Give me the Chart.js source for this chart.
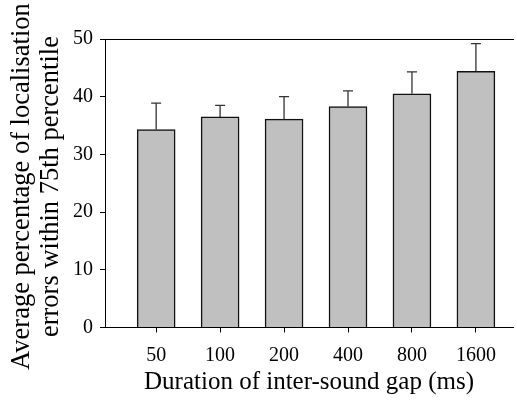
<!DOCTYPE html>
<html>
<head>
<meta charset="utf-8">
<script src="https://cdn.jsdelivr.net/npm/chart.js@4/dist/chart.umd.min.js"></script>
<style>
  body { margin: 0; background: #fff; }
  #wrap { width: 517px; height: 405px; }
</style>
</head>
<body>
<div id="wrap"><canvas id="myChart" width="517" height="405"></canvas></div>
<script>
'use strict';

var gaps = ["50", "100", "200", "400", "800", "1600"];
var means = [34.3, 36.5, 36.1, 38.3, 40.5, 44.4];
var errors = [4.6, 2.0, 3.9, 2.7, 3.8, 4.8];
var yTicks = [0, 10, 20, 30, 40, 50];

var serif = "'Liberation Serif', 'Times New Roman', serif";

// one-sided error bars, drawn from the bar top upward
var errorBars = {
  id: 'errorBars',
  afterDatasetsDraw: function(chart) {
    var ctx = chart.ctx;
    var meta = chart.getDatasetMeta(0);
    var y = chart.scales.y;
    ctx.save();
    ctx.strokeStyle = '#333';
    ctx.lineWidth = 1.3;
    meta.data.forEach(function(bar, i) {
      var top = y.getPixelForValue(means[i]);
      var end = y.getPixelForValue(means[i] + errors[i]);
      ctx.beginPath();
      ctx.moveTo(bar.x, top);
      ctx.lineTo(bar.x, end);
      ctx.moveTo(bar.x - 5, end);
      ctx.lineTo(bar.x + 5, end);
      ctx.stroke();
    });
    ctx.restore();
  }
};

var ctx = document.getElementById('myChart').getContext('2d');

var chart = new Chart(ctx, {
  type: 'bar',
  data: {
    datasets: [{
      data: means.map(function(v, i) { return { x: i + 1, y: v }; }),
      backgroundColor: '#c0c0c0',
      borderColor: '#111',
      borderWidth: 1.5,
      barThickness: 38,
    }]
  },
  options: {
    responsive: false,
    animation: false,
    layout: { padding: { top: 39, right: 4, left: 0, bottom: 0 } },
    plugins: {
      legend: { display: false },
      tooltip: { enabled: false },
    },
    scales: {
      x: {
        type: 'linear',
        offset: false,
        min: 0.2,
        max: 6.58,
        afterBuildTicks: function(axis) {
          axis.ticks = gaps.map(function(g, i) { return { value: i + 1 }; });
        },
        afterFit: function(scale) { scale.height = 77.5; },
        grid: { offset: false, drawOnChartArea: false, tickLength: 5, tickColor: '#000' },
        border: { color: '#000', width: 1 },
        ticks: {
          color: '#000',
          padding: 11,
          maxRotation: 0,
          autoSkip: false,
          font: { family: serif, size: 20 },
          callback: function(v) { return gaps[v - 1]; }
        },
        title: {
          display: true,
          text: 'Duration of inter-sound gap (ms)',
          color: '#000',
          font: { family: serif, size: 25, lineHeight: 1.1 },
          padding: { top: 0, bottom: 9 }
        }
      },
      xTop: {
        type: 'linear',
        position: 'top',
        offset: false,
        min: 0.2,
        max: 6.58,
        afterFit: function(scale) { scale.height = 0; },
        grid: { display: false },
        border: { color: '#000', width: 1 },
        ticks: { display: false }
      },
      y: {
        min: 0,
        max: 50,
        afterBuildTicks: function(axis) {
          axis.ticks = yTicks.map(function(v) { return { value: v }; });
        },
        afterFit: function(scale) { scale.width = 105; },
        grid: { drawOnChartArea: false, tickLength: 5, tickColor: '#000' },
        border: { color: '#000', width: 1 },
        ticks: {
          color: '#000',
          padding: 7,
          font: { family: serif, size: 20 }
        },
        title: {
          display: true,
          // trailing space nudges the rotated text a little lower
          text: ['Average percentage of localisation ', 'errors within 75th percentile '],
          color: '#000',
          font: { family: serif, size: 26.5, lineHeight: 1.1 },
          padding: { top: 7, bottom: 0 }
        }
      }
    }
  },
  plugins: [errorBars]
});
</script>
</body>
</html>
